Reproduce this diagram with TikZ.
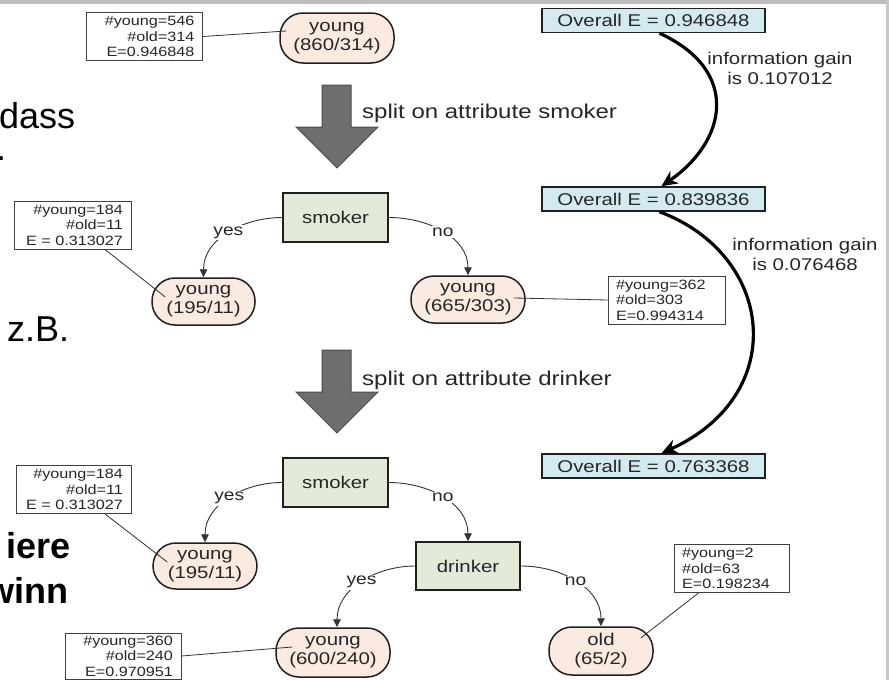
\documentclass[tikz,border=0pt]{standalone}
\usepackage{fontspec}
\setmainfont{Liberation Sans}
\newfontfamily\dg[FakeStretch=1.2]{Liberation Sans}
\usetikzlibrary{arrows.meta}
\definecolor{leaffill}{HTML}{FBEAE0}
\definecolor{testfill}{HTML}{E4EAD8}
\definecolor{overfill}{HTML}{D4EAF1}
\definecolor{bigarrow}{HTML}{6E6E6E}
\definecolor{edgegray}{HTML}{333333}
\definecolor{topgray}{HTML}{BDBDBD}
\definecolor{sidegray}{HTML}{C8C8C8}
\begin{document}
\begin{tikzpicture}[x=1pt,y=1pt,
  leaf/.style={draw=black!88, line width=1.5pt, fill=leaffill, rounded corners=23pt, minimum height=48pt, inner sep=0pt, align=center, text=black!85, font=\dg\fontsize{17}{19}\selectfont},
  test/.style={draw=black!88, line width=1.5pt, fill=testfill, minimum width=105pt, minimum height=49pt, inner sep=0pt, text=black!85, font=\dg\fontsize{17}{20}\selectfont},
  overall/.style={draw=black!88, line width=1.5pt, fill=overfill, minimum width=223pt, minimum height=24pt, inner sep=0pt, text=black!85, font=\dg\fontsize{17}{20}\selectfont},
  info/.style={draw=black!75, line width=0.9pt, fill=white, inner xsep=8pt, inner ysep=0pt, minimum height=48pt, text=black!85, font=\dg\fontsize{13.5}{15.5}\selectfont},
  inforight/.style={info, align=right, text width=#1},
  infoleft/.style={info, align=left, text width=#1},
  edge/.style={draw=edgegray, line width=0.9pt, -{Triangle[length=8pt,width=7.5pt]}},
  lbl/.style={fill=white, inner sep=1.5pt, text=black!85, font=\dg\fontsize{16}{18}\selectfont},
  note/.style={draw=edgegray, line width=0.8pt},
  gain/.style={draw=black, line width=3.2pt, -{Stealth[length=16pt,width=15pt]}},
  bigarr/.style={fill=bigarrow, draw=black!70, line width=1pt},
  slide/.style={font=\fontsize{36}{40}\selectfont, inner sep=0pt},
  slidebold/.style={font=\bfseries\fontsize{36}{40}\selectfont, inner sep=0pt},
  splitlbl/.style={font=\dg\fontsize{20}{24}\selectfont, inner sep=0pt, anchor=west, text=black!85},
  gainlbl/.style={font=\dg\fontsize{17}{20}\selectfont, align=center, inner sep=0pt, text=black!85}
]
\useasboundingbox (0,0) rectangle (889,-680);
\clip (0,0) rectangle (889,-680);
\fill[white] (0,0) rectangle (889,-680);
\fill[topgray] (0,0) rectangle (889,-4);
\fill[sidegray] (885.5,0) rectangle (889,-680);

% slide text behind the diagram
\node[slide, anchor=base west] (t1) at (-1,-128) {dass};
\node[slide, anchor=base west] (t2) at (-4,-160) {.};
\node[slide, anchor=base west] (t3) at (7,-341) {z.B.};
\node[slidebold, anchor=base east] (t4) at (71,-558) {iere};
\node[slidebold, anchor=base east] (t5) at (69,-603) {winn};

% big split arrows
\path[bigarr] (322,-85) -- (351,-85) -- (351,-127) -- (378,-127) -- (337,-168) -- (296,-127) -- (322,-127) -- cycle;
\path[bigarr] (322,-350) -- (351,-350) -- (351,-392) -- (378,-392) -- (337,-433) -- (296,-392) -- (322,-392) -- cycle;
\node[splitlbl] (sp1) at (362,-113) {split on attribute smoker};
\node[splitlbl] (sp2) at (362,-380) {split on attribute drinker};

% overall entropy boxes
\node[overall] (ov1) at (653.5,-20.5) {Overall E = 0.946848};
\node[overall] (ov2) at (653.5,-199) {Overall E = 0.839836};
\node[overall] (ov3) at (653.5,-466) {Overall E = 0.763368};
\node[gainlbl] (g1) at (780,-68) {information gain\\is 0.107012};
\node[gainlbl] (g2) at (805,-254.5) {information gain\\is 0.076468};
\draw[gain] ([xshift=6pt]ov1.south) .. controls (740,-70) and (728,-140) .. ([xshift=8pt]ov2.north);
\draw[gain] ([xshift=6pt]ov2.south) .. controls (775,-255) and (790,-395) .. ([xshift=8pt]ov3.north);

% root
\node[inforight=100pt] (rinfo) at (144.5,-36.5) {\#young=546\\\#old=314\\E=0.946848};
\node[leaf, minimum width=114pt, minimum height=50pt] (root) at (337,-38) {young\\(860/314)};

% first tree
\node[test] (s1) at (335.5,-217.5) {smoker};
\node[leaf, minimum width=103pt, minimum height=47pt] (l1) at (203.5,-301.5) {young\\(195/11)};
\node[inforight=101pt] (i1) at (72.5,-225) {\#young=184\\\#old=11\\E = 0.313027};
\node[leaf, minimum width=114pt, minimum height=47pt] (l2) at (468,-299.5) {young\\(665/303)};
\node[infoleft=101pt] (i2) at (666.5,-300) {\#young=362\\\#old=303\\E=0.994314};

% second tree
\node[test] (s2) at (335.5,-482.5) {smoker};
\node[inforight=99pt] (i3) at (73.5,-489.5) {\#young=184\\\#old=11\\E = 0.313027};
\node[leaf, minimum width=104pt, minimum height=46pt] (l3) at (205,-566) {young\\(195/11)};
\node[test, minimum width=104pt, minimum height=48pt] (d1) at (468,-566) {drinker};
\node[leaf, minimum width=114pt, minimum height=49pt] (l4) at (333,-652.5) {young\\(600/240)};
\node[inforight=100pt, minimum height=46pt] (i4) at (123,-656) {\#young=360\\\#old=240\\E=0.970951};
\node[leaf, minimum width=104pt, minimum height=48pt] (l5) at (601,-651) {old\\(65/2)};
\node[infoleft=99pt] (i5) at (731.5,-568.5) {\#young=2\\\#old=63\\E=0.198234};

% tree edges
\draw[edge] (s1.west) to[out=180,in=90] node[lbl]{yes} (l1.north);
\draw[edge] (s1.east) to[out=0,in=90] node[lbl]{no} (l2.north);
\draw[edge] (s2.west) to[out=180,in=90] node[lbl]{yes} (l3.north);
\draw[edge] (s2.east) to[out=0,in=90] node[lbl]{no} (d1.north);
\draw[edge] (d1.west) to[out=180,in=90] node[lbl]{yes} ([xshift=4pt]l4.north);
\draw[edge] (d1.east) to[out=0,in=90] node[lbl]{no} (l5.north);

% note lines
\draw[note] (rinfo.east) -- ([xshift=7pt,yshift=7pt]root.west);
\draw[note] ([xshift=32.5pt]i1.south) -- ([xshift=14pt,yshift=4.5pt]l1.west);
\draw[note] ([xshift=-12pt,yshift=1.5pt]l2.east) -- (i2.west);
\draw[note] ([xshift=31.5pt]i3.south) -- ([xshift=15pt,yshift=4pt]l3.west);
\draw[note] (i4.east) -- ([xshift=17pt,yshift=5.5pt]l4.west);
\draw[note] ([xshift=-33pt]i5.south) -- ([xshift=-13pt,yshift=13pt]l5.east);
\end{tikzpicture}
\end{document}
